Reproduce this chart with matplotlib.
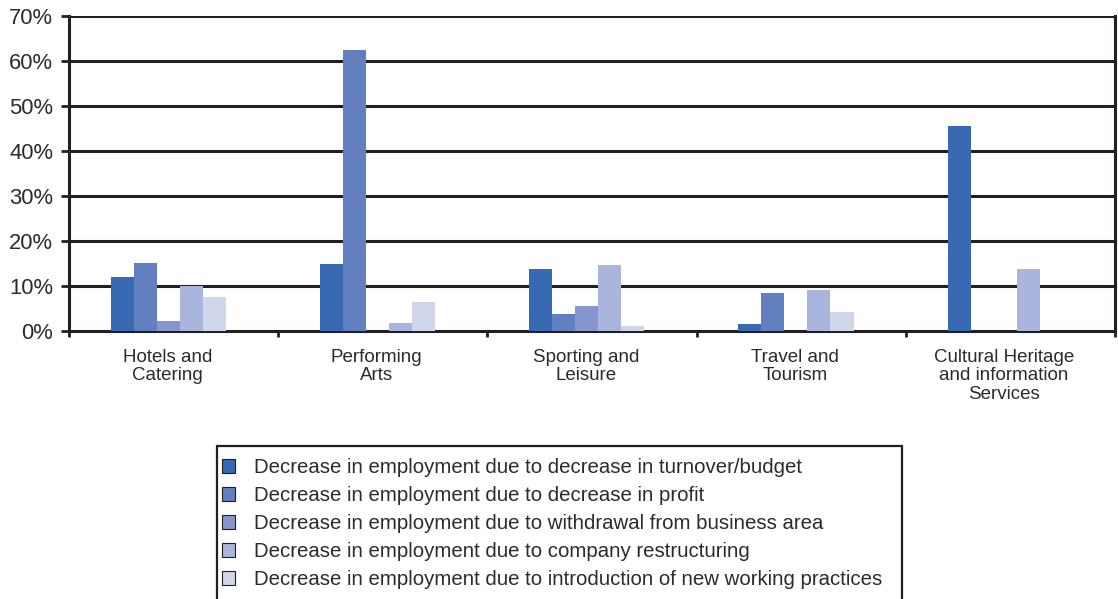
import matplotlib
matplotlib.use("Agg")
import matplotlib.pyplot as plt
from matplotlib.patches import Rectangle, Patch
import numpy as np

categories = ["Hotels and\nCatering", "Performing\nArts", "Sporting and\nLeisure",
              "Travel and\nTourism", "Cultural Heritage\nand information\nServices"]
series_names = [
    "Decrease in employment due to decrease in turnover/budget",
    "Decrease in employment due to decrease in profit",
    "Decrease in employment due to withdrawal from business area",
    "Decrease in employment due to company restructuring",
    "Decrease in employment due to introduction of new working practices",
]
turnover = [12.1, 15.0, 13.8, 1.6, 45.5]
profit = [15.1, 62.4, 3.8, 8.4, 0.0]
withdrawal = [2.2, 0.0, 5.6, 0.0, 0.0]
restructuring = [10.1, 1.8, 14.7, 9.1, 13.8]
new_practices = [7.6, 6.4, 1.1, 4.2, 0.0]
series = [turnover, profit, withdrawal, restructuring, new_practices]
colors = ["#376ab2", "#6280c0", "#8496cb", "#a9b5dc", "#d1d7eb"]
yticks = [0, 10, 20, 30, 40, 50, 60, 70]

plt.rcParams['font.family'] = ['Liberation Sans', 'DejaVu Sans']
txt = "#2b2b2b"

fig = plt.figure(figsize=(11.18, 5.99), dpi=100)
ax = fig.add_axes([69/1118, 1-331/599, (1115-69)/1118, (331-16)/599])

n = len(series)
w = 0.11
x = np.arange(len(categories))
for i, (vals, c) in enumerate(zip(series, colors)):
    ax.bar(x + (i - (n-1)/2)*w - 0.025, vals, width=w, color=c, zorder=3, linewidth=0)

ax.set_xlim(-0.5, len(categories)-0.5)
ax.set_ylim(0, 70)
ax.set_yticks(yticks)
ax.set_yticklabels([f"{v}%" for v in yticks], fontsize=15.8, color=txt)
for v in yticks[1:]:
    ax.axhline(v, color="#231f20", lw=2.2, zorder=2)

ax.set_xticks(np.arange(-0.5, len(categories), 1.0))
ax.set_xticklabels([])
ax.set_xticks(x - 0.03, minor=True)
ax.set_xticklabels(categories, minor=True, fontsize=13.5, color=txt, linespacing=1.1)
ax.tick_params(axis='x', which='minor', length=0, pad=13)
ax.tick_params(axis='x', which='major', length=4, width=2, color="#231f20", direction='out')
ax.tick_params(axis='y', length=6, width=2, color="#231f20", pad=5.5)

for s in ['left', 'right', 'bottom']:
    ax.spines[s].set_color("#231f20")
    ax.spines[s].set_linewidth(2.2)
ax.spines['top'].set_visible(False)

# legend
rect = Rectangle((217/1118, -0.05), (902-217)/1118, (1-446/599)+0.05, transform=fig.transFigure,
                 fill=False, edgecolor="#231f20", linewidth=1.6, clip_on=False)
fig.patches.append(rect)
handles = [Patch(facecolor=c, edgecolor="#231f20", linewidth=0.8) for c in colors]
fig.legend(handles, series_names, loc='upper left', bbox_to_anchor=(222/1118, 1-458/599),
           frameon=False, fontsize=14.7, handlelength=0.65, handleheight=0.65,
           handletextpad=0.9, labelspacing=0.44, borderpad=0, borderaxespad=0,
           labelcolor=txt)

fig.savefig("out.png", dpi=100)
